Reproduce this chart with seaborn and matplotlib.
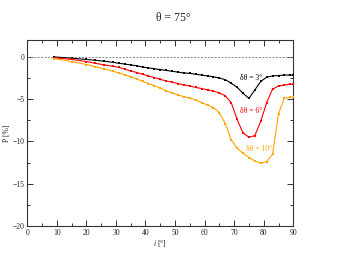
import numpy as np
import pandas as pd
import matplotlib
matplotlib.use("Agg")
import matplotlib.pyplot as plt
import seaborn as sns
from matplotlib.ticker import MultipleLocator

incl = [9, 15, 20, 23, 26, 29, 31, 33, 35, 37, 39, 41, 43, 45, 47, 49, 51, 53, 55,
        57, 59, 61, 63, 65, 67, 69, 71, 73, 75, 77, 79, 81, 83, 85, 87, 89, 90]

p_3 = [0.0, -0.15, -0.3, -0.4, -0.5, -0.65, -0.75, -0.85, -0.95, -1.05, -1.2, -1.3,
       -1.4, -1.5, -1.6, -1.7, -1.8, -1.9, -1.95, -2.05, -2.15, -2.25, -2.35, -2.5,
       -2.7, -3.1, -3.6, -4.3, -4.9, -3.9, -2.9, -2.4, -2.25, -2.2, -2.15, -2.15, -2.15]

p_6 = [-0.1, -0.3, -0.55, -0.75, -0.95, -1.1, -1.25, -1.45, -1.65, -1.85, -2.05, -2.25,
       -2.45, -2.65, -2.85, -3.0, -3.15, -3.3, -3.45, -3.6, -3.75, -3.9, -4.05, -4.25,
       -4.6, -5.4, -7.4, -9.0, -9.5, -9.3, -7.6, -5.4, -3.8, -3.45, -3.3, -3.25, -3.25]

p_10 = [-0.2, -0.55, -0.9, -1.15, -1.4, -1.7, -1.9, -2.1, -2.35, -2.6, -2.9, -3.15,
        -3.4, -3.7, -4.0, -4.25, -4.5, -4.7, -4.9, -5.1, -5.4, -5.7, -6.0, -6.6,
        -7.9, -9.8, -10.8, -11.4, -11.9, -12.3, -12.55, -12.4, -11.5, -6.7, -4.85, -4.8, -4.8]

series = ["3", "6", "10"]
colors = ["black", "red", "orange"]

df = pd.concat([
    pd.DataFrame({"i": incl, "P": p_3, "dt": "3"}),
    pd.DataFrame({"i": incl, "P": p_6, "dt": "6"}),
    pd.DataFrame({"i": incl, "P": p_10, "dt": "10"}),
])

sns.set_style("ticks")
plt.rcParams["font.family"] = ["Liberation Serif", "DejaVu Serif"]
plt.rcParams["mathtext.fontset"] = "stix"

fig = plt.figure(figsize=(3.54, 2.59), dpi=100)
ax = fig.add_axes([0.077, 0.1274, 0.7515, 0.7182])

ax.axhline(0, color="#888888", lw=0.7, ls=(0, (2, 1.5)), zorder=1)
sns.lineplot(data=df, x="i", y="P", hue="dt", hue_order=series, palette=colors,
             marker="s", markersize=2, markeredgewidth=0, linewidth=0.8,
             legend=False, ax=ax, zorder=3)

ax.set_xlim(0, 90)
ax.set_ylim(-20, 2)
ax.xaxis.set_major_locator(MultipleLocator(10))
ax.xaxis.set_minor_locator(MultipleLocator(5))
ax.yaxis.set_major_locator(MultipleLocator(5))
ax.yaxis.set_minor_locator(MultipleLocator(2.5))
ax.tick_params(which="both", direction="in", top=True, right=True,
               labelsize=5.5, width=0.7, color="#333333", pad=2)
ax.tick_params(which="major", length=4)
ax.tick_params(which="minor", length=2.2)
for s in ax.spines.values():
    s.set_linewidth(0.8)
    s.set_color("#333333")

ax.set_xlabel(r"$i$ [°]", fontsize=5.5, labelpad=1)
ax.set_ylabel("P [%]", fontsize=5.5, labelpad=1)

ax.text(75.6, -2.45, "δθ = 3°", color="black", fontsize=5.5, ha="center", va="center")
ax.text(75.9, -6.35, "δθ = 6°", color="red", fontsize=5.5, ha="center", va="center")
ax.text(78.3, -10.9, "δθ = 10°", color="orange", fontsize=5.5, ha="center", va="center")

fig.text(0.49, 1 - 18 / 259, "θ = 75°", fontsize=8.5, ha="center", va="center")

fig.savefig("out.png", dpi=100)
